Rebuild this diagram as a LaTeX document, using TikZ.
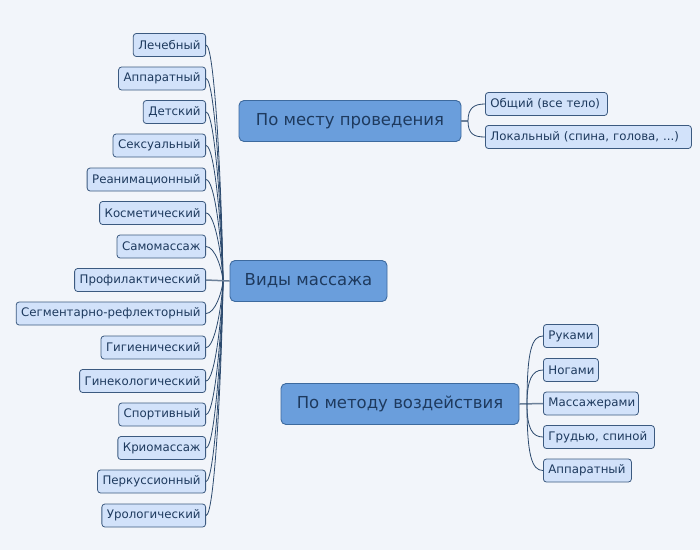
\documentclass[tikz,border=0pt]{standalone}
\usepackage{fontspec}
\setmainfont{DejaVu Sans}
\definecolor{bgcol}{HTML}{F2F5FA}
\definecolor{leaffill}{HTML}{D2E2FA}
\definecolor{leafborder}{HTML}{3C5A80}
\definecolor{mainfill}{HTML}{6A9EDC}
\definecolor{mainborder}{HTML}{3D6A9E}
\definecolor{txt}{HTML}{1E3A5E}
\definecolor{conncol}{HTML}{2C4A6E}
\tikzset{
  leaf/.style={draw=leafborder, fill=leaffill, rounded corners=3pt, line width=0.8pt,
    font=\fontsize{11.8}{14}\selectfont, text=txt, minimum height=23pt, inner xsep=5pt, inner ysep=0pt},
  rleaf/.style={leaf, anchor=west, align=left, text width=#1},
  mainbox/.style={draw=mainborder, fill=mainfill, rounded corners=5pt, line width=0.9pt,
    font=\fontsize{16.5}{19}\selectfont, text=txt, minimum height=41pt, inner xsep=14pt, inner ysep=0pt},
  conn/.style={draw=conncol, line width=0.8pt},
  trunk/.style={draw=conncol!70!white, line width=1.5pt}
}
\begin{document}
\begin{tikzpicture}[x=1pt,y=-1pt]
\fill[bgcol] (0,0) rectangle (700,550);
\useasboundingbox (0,0) rectangle (700,550);

% central
\node[mainbox, minimum width=157pt] (c) at (308.5,281) {Виды массажа};
\node[mainbox, minimum width=222pt] (m1) at (350,121) {По месту проведения};
\node[mainbox, minimum width=238pt] (m2) at (400,404) {По методу воздействия};

% left leaves
\node[leaf, anchor=east] (l1) at (206,45) {Лечебный};
\node[leaf, anchor=east] (l2) at (206,78.5) {Аппаратный};
\node[leaf, anchor=east] (l3) at (206,112) {Детский};
\node[leaf, anchor=east] (l4) at (206,145.5) {Сексуальный};
\node[leaf, anchor=east] (l5) at (206,179.5) {Реанимационный};
\node[leaf, anchor=east] (l6) at (206,213) {Косметический};
\node[leaf, anchor=east] (l7) at (206,246.5) {Самомассаж};
\node[leaf, anchor=east] (l8) at (206,280) {Профилактический};
\node[leaf, anchor=east] (l9) at (206,313.5) {Сегментарно-рефлекторный};
\node[leaf, anchor=east] (l10) at (206,347.5) {Гигиенический};
\node[leaf, anchor=east] (l11) at (206,381) {Гинекологический};
\node[leaf, anchor=east] (l12) at (206,414.5) {Спортивный};
\node[leaf, anchor=east] (l13) at (206,448) {Криомассаж};
\node[leaf, anchor=east] (l14) at (206,481.5) {Перкуссионный};
\node[leaf, anchor=east] (l15) at (206,515.5) {Урологический};

\coordinate (hub) at (223,281);
\foreach \i/\y in {1/45,2/78.5,3/112,4/145.5,5/179.5,6/213,7/246.5,9/313.5,10/347.5,11/381,12/414.5,13/448,14/481.5,15/515.5}
  \draw[conn] (l\i.east) .. controls +(9,0) and (222,{\y+0.65*(281-\y)}) .. (hub);
\draw[trunk] (l8.east) -- (c.west);

% top right
\node[rleaf=112pt] (r1) at (485,104) {Общий (все тело)};
\node[rleaf=196pt] (r2) at (485,137) {Локальный (спина, голова, ...)};
\coordinate (j1) at (468,121);
\draw[trunk] (m1.east) -- (j1);
\draw[conn] (j1) .. controls (468,108) and (474,104) .. (r1.west);
\draw[conn] (j1) .. controls (468,134) and (474,137) .. (r2.west);

% bottom right
\node[rleaf=45pt] (b1) at (543,336) {Руками};
\node[rleaf=45pt] (b2) at (543,370) {Ногами};
\node[rleaf=85pt] (b3) at (543,403.5) {Массажерами};
\node[rleaf=101pt] (b4) at (543,437) {Грудью, спиной};
\node[rleaf=78pt] (b5) at (543,470.5) {Аппаратный};
\coordinate (j2) at (527,404);
\draw[trunk] (m2.east) -- (b3.west);
\draw[conn] (j2) .. controls (527,350) and (532,336) .. (b1.west);
\draw[conn] (j2) .. controls (527,380) and (532,370) .. (b2.west);
\draw[conn] (j2) .. controls (527,428) and (532,437) .. (b4.west);
\draw[conn] (j2) .. controls (527,456) and (532,470.5) .. (b5.west);
\end{tikzpicture}
\end{document}
